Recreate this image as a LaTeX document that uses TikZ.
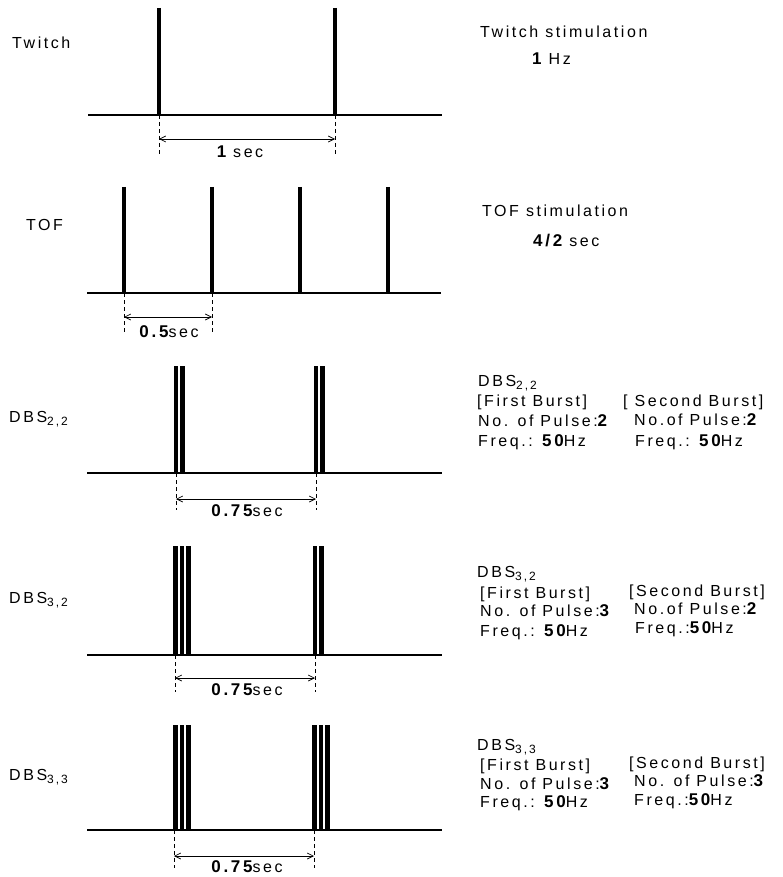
\documentclass[tikz,border=0pt]{standalone}
\usepackage{fontspec}
\setmainfont{Liberation Sans}[LetterSpace=16]
\usetikzlibrary{arrows.meta}

% subscript of the DBS labels
\newcommand\dbssub[1]{\raisebox{-3pt}{\fontsize{12}{12}\selectfont #1}}
% bold figures inside the captions
\newcommand\bnum[1]{{\fontsize{17}{17}\selectfont\bfseries #1}}

\tikzset{
  baseline line/.style={line width=1.7pt},
  pulse/.style={line width=4.4pt},
  guide/.style={line width=0.8pt, dash pattern=on 4pt off 3pt},
  dim/.style={line width=0.7pt,
    {Straight Barb[length=6pt,width=6pt]}-{Straight Barb[length=6pt,width=6pt]}},
  txt/.style={anchor=base west, inner sep=0pt, font=\fontsize{16}{17}\selectfont},
  dimtxt/.style={anchor=base, inner sep=0pt, font=\fontsize{16}{17}\selectfont},
}

\begin{document}
\begin{tikzpicture}[x=1pt,y=-1pt]
\useasboundingbox (0,0) rectangle (783,877);

% ---------------- Twitch ----------------
\node[txt] (lTw) at (12,49) {Twitch};
\draw[baseline line] (88,115) -- (442,115);
\foreach \x in {159,335} \draw[pulse] (\x,8) -- (\x,115);
\coordinate (tw1) at (159,115); \coordinate (tw2) at (335,115);
\draw[guide] (tw1) -- ++(0,40);
\draw[guide] (tw2) -- ++(0,40);
\draw[dim] ([yshift=-24pt]tw1) -- ([yshift=-24pt]tw2);
\node[dimtxt] (dTw) at (240,158) {\bnum{1} sec};
\node[txt] (rTw1) at (480,38) {Twitch stimulation};
\node[txt] (rTw2) at (532,65) {\bnum{1} Hz};

% ---------------- TOF ----------------
\node[txt] (lTof) at (26,230) {TOF};
\draw[baseline line] (87,293) -- (441,293);
\foreach \x in {124,212,300,388} \draw[pulse] (\x,187) -- (\x,293);
\coordinate (tf1) at (124,293); \coordinate (tf2) at (212,293);
\draw[guide] (tf1) -- ++(0,39);
\draw[guide] (tf2) -- ++(0,39);
\draw[dim] ([yshift=-24pt]tf1) -- ([yshift=-24pt]tf2);
\node[dimtxt] (dTof) at (169,337) {\bnum{0.5}sec};
\node[txt] (rTof1) at (482,217) {TOF stimulation};
\node[txt] (rTof2) at (533,247) {\bnum{4/2} sec};

% ---------------- DBS 2,2 ----------------
\node[txt] (lD22) at (9,422) {DBS\dbssub{2,2}};
\draw[baseline line] (87,473) -- (442,473);
\foreach \x in {176,182.5,316,322.5} \draw[pulse] (\x,366) -- (\x,473);
\coordinate (a1) at (176,473); \coordinate (a2) at (316,473);
\draw[guide] (a1) -- ++(0,37);
\draw[guide] (a2) -- ++(0,37);
\draw[dim] ([yshift=-26pt]a1) -- ([yshift=-26pt]a2);
\node[dimtxt] (dD22) at (247,516) {\bnum{0.75}sec};
\node[txt] (rD22a) at (478,386) {DBS\dbssub{2,2}};
\node[txt] (rD22b) at (477,406) {[First Burst]};
\node[txt] (rD22c) at (478,426) {No. of Pulse:\bnum{2}};
\node[txt] (rD22d) at (478,446) {Freq.: \bnum{50}Hz};
\node[txt] (rD22e) at (623,406) {[ Second Burst]};
\node[txt] (rD22f) at (634,425) {No.of Pulse:\bnum{2}};
\node[txt] (rD22g) at (635,446) {Freq.: \bnum{50}Hz};

% ---------------- DBS 3,2 ----------------
\node[txt] (lD32) at (9,603) {DBS\dbssub{3,2}};
\draw[baseline line] (87,655) -- (442,655);
\foreach \x in {175.5,182,188.5,315,321.5} \draw[pulse] (\x,546) -- (\x,655);
\coordinate (b1) at (175,655); \coordinate (b2) at (315,655);
\draw[guide] (b1) -- ++(0,37);
\draw[guide] (b2) -- ++(0,37);
\draw[dim] ([yshift=-23pt]b1) -- ([yshift=-23pt]b2);
\node[dimtxt] (dD32) at (247,695) {\bnum{0.75}sec};
\node[txt] (rD32a) at (477,577) {DBS\dbssub{3,2}};
\node[txt] (rD32b) at (480,598) {[First Burst]};
\node[txt] (rD32c) at (480,616) {No. of Pulse:\bnum{3}};
\node[txt] (rD32d) at (480,636) {Freq.: \bnum{50}Hz};
\node[txt] (rD32e) at (629,596) {[Second Burst]};
\node[txt] (rD32f) at (634,614) {No.of Pulse:\bnum{2}};
\node[txt] (rD32g) at (635,633) {Freq.:\bnum{50}Hz};

% ---------------- DBS 3,3 ----------------
\node[txt] (lD33) at (9,780) {DBS\dbssub{3,3}};
\draw[baseline line] (87,830) -- (442,830);
\foreach \x in {175.5,182,188.5,314.5,321,327.5} \draw[pulse] (\x,725) -- (\x,830);
\coordinate (c1) at (174,830); \coordinate (c2) at (314,830);
\draw[guide] (c1) -- ++(0,38);
\draw[guide] (c2) -- ++(0,38);
\draw[dim] ([yshift=-26pt]c1) -- ([yshift=-26pt]c2);
\node[dimtxt] (dD33) at (247,872) {\bnum{0.75}sec};
\node[txt] (rD33a) at (477,750) {DBS\dbssub{3,3}};
\node[txt] (rD33b) at (480,770) {[First Burst]};
\node[txt] (rD33c) at (480,789) {No. of Pulse:\bnum{3}};
\node[txt] (rD33d) at (480,807) {Freq.: \bnum{50}Hz};
\node[txt] (rD33e) at (629,768) {[Second Burst]};
\node[txt] (rD33f) at (634,786) {No. of Pulse:\bnum{3}};
\node[txt] (rD33g) at (634,805) {Freq.:\bnum{50}Hz};
\end{tikzpicture}
\end{document}
